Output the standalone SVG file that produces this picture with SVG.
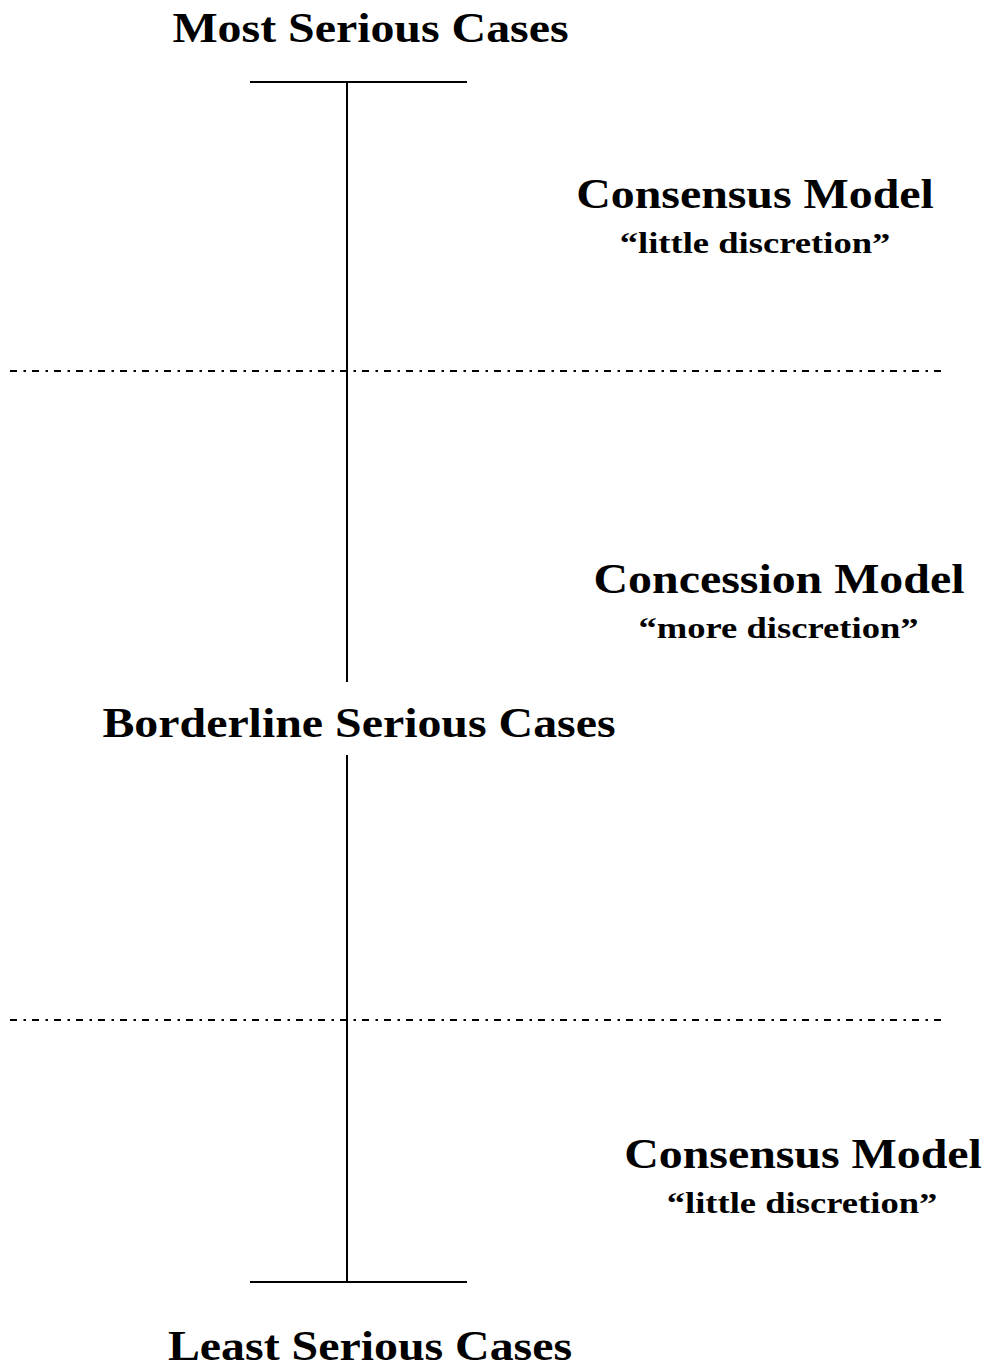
<svg xmlns="http://www.w3.org/2000/svg" width="986" height="1367" viewBox="0 0 986 1367">
<style>
.t{font-family:"Liberation Serif","Times New Roman",serif;font-weight:bold;fill:#000;text-anchor:middle}
.big{font-size:42px}
.small{font-size:30px}
.ln{stroke:#000;stroke-width:2;fill:none}
.dd{stroke:#000;stroke-width:1.8;fill:none;stroke-dasharray:7 6.5 2.5 6}
</style>
<rect width="986" height="1367" fill="#fff"/>
<g id="connectors">
<line class="ln" x1="250" y1="82" x2="467" y2="82"/>
<line class="ln" x1="347" y1="82" x2="347" y2="682"/>
<line class="ln" x1="347" y1="755" x2="347" y2="1282"/>
<line class="ln" x1="250" y1="1282" x2="467" y2="1282"/>
<line class="dd" x1="10" y1="371" x2="942" y2="371"/>
<line class="dd" x1="10" y1="1020" x2="942" y2="1020"/>
</g>
<g id="most"><text class="t big" transform="translate(370.5 42) scale(1.14 1)">Most Serious Cases</text></g>
<g id="consensus-top"><text class="t big" transform="translate(755 208) scale(1.14 1)">Consensus Model</text><text class="t small" transform="translate(755 253) scale(1.22 1)">“little discretion”</text></g>
<g id="concession"><text class="t big" transform="translate(779 593) scale(1.14 1)">Concession Model</text><text class="t small" transform="translate(778.5 638) scale(1.22 1)">“more discretion”</text></g>
<g id="borderline"><text class="t big" transform="translate(359 737) scale(1.14 1)">Borderline Serious Cases</text></g>
<g id="consensus-bottom"><text class="t big" transform="translate(803 1168) scale(1.14 1)">Consensus Model</text><text class="t small" transform="translate(802 1213) scale(1.22 1)">“little discretion”</text></g>
<g id="least"><text class="t big" transform="translate(370 1360) scale(1.14 1)">Least Serious Cases</text></g>
</svg>
